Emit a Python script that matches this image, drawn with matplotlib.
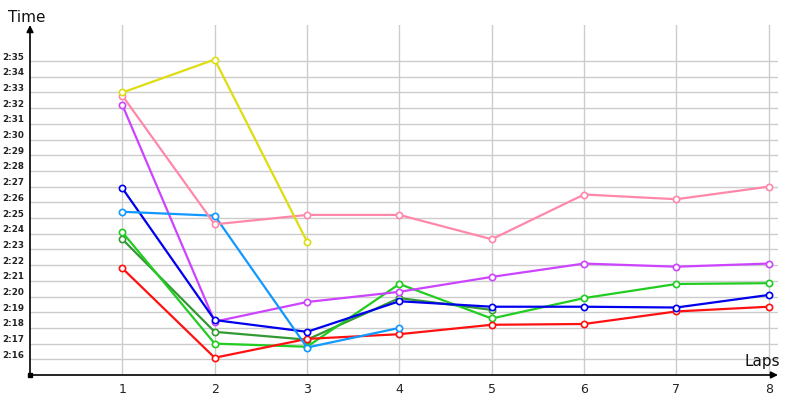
import matplotlib
matplotlib.use('Agg')
import matplotlib.pyplot as plt
import matplotlib.transforms as mtransforms

# lap times in seconds (2:16 -> 136)
laps = [1, 2, 3, 4, 5, 6, 7, 8]
red = [141.8, 136.1, 137.3, 137.6, 138.2, 138.25, 139.05, 139.35]
green = [144.1, 137.0, 136.8, 140.8, 138.6, 139.9, 140.8, 140.85]
dark_green = [143.65, 137.75, 137.25, 139.9, 139.15]
blue = [146.9, 138.5, 137.75, 139.7, 139.35, 139.35, 139.3, 140.1]
light_blue = [145.4, 145.15, 136.75, 138.0]
purple = [152.2, 138.4, 139.65, 140.3, 141.25, 142.1, 141.9, 142.1]
pink = [152.8, 144.6, 145.2, 145.2, 143.65, 146.5, 146.2, 147.0]
yellow = [153.0, 155.1, 143.5]

series = [
    (dark_green, '#339933'),
    (green, '#22cc22'),
    (red, '#ff1111'),
    (purple, '#cc44ff'),
    (blue, '#0000ee'),
    (light_blue, '#1199ff'),
    (pink, '#ff88aa'),
    (yellow, '#dddd11'),
]

ytick_vals = list(range(136, 156))
ytick_labels = ['2:%02d' % (v - 120) for v in ytick_vals]

fig = plt.figure(figsize=(8, 4), dpi=100)
ax = fig.add_axes([0.0375, 0.0625, 0.935, 0.875])

for vals, col in series:
    ax.plot(laps[:len(vals)], vals, color=col, lw=1.6, marker='o', ms=4.5,
            mfc='white', mec=col, mew=1.2, zorder=3)

ax.set_xlim(0, 8.1)
ax.set_ylim(135, 157.3)
ax.set_xticks(laps)
ax.set_yticks(ytick_vals)
ax.set_yticklabels(ytick_labels)
ax.tick_params(axis='y', length=0, pad=4, labelsize=6.3, labelcolor='#222222')
ax.tick_params(axis='x', length=0, pad=6, labelsize=9, labelcolor='#222222')
for lab in ax.get_yticklabels():
    lab.set_fontweight('bold')
ax.grid(True, color='#cccccc', lw=1)
ax.set_axisbelow(True)

# shift y labels a bit up like the original
offset = mtransforms.ScaledTranslation(0, 0.05, fig.dpi_scale_trans)
for lab in ax.get_yticklabels():
    lab.set_transform(lab.get_transform() + offset)

for s in ax.spines.values():
    s.set_visible(False)

# axes with arrows
ax.annotate('', xy=(0, 1.0), xytext=(0, 0), xycoords='axes fraction',
            arrowprops=dict(arrowstyle='-|>', color='black', lw=1.2,
                            mutation_scale=10, shrinkA=0, shrinkB=0))
ax.annotate('', xy=(1.0, 0), xytext=(0, 0), xycoords='axes fraction',
            arrowprops=dict(arrowstyle='-|>', color='black', lw=1.2,
                            mutation_scale=10, shrinkA=0, shrinkB=0))
ax.plot([0], [0], marker='s', ms=3, color='black', transform=ax.transAxes,
        clip_on=False)

fig.text(0.01, 0.945, 'Time', fontsize=11, color='#111111')
fig.text(0.93, 0.085, 'Laps', fontsize=11, color='#111111')

fig.savefig('out.png', dpi=100)
